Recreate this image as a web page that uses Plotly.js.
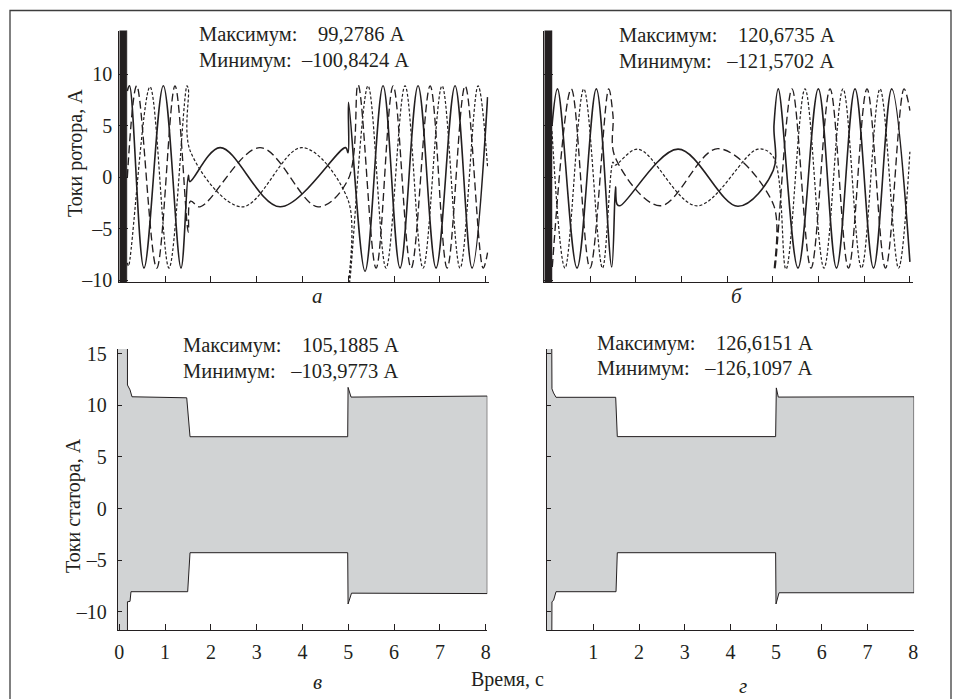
<!DOCTYPE html>
<html>
<head>
<meta charset="utf-8">
<script src="https://cdn.plot.ly/plotly-3.0.1.min.js"></script>
<style>
html,body{margin:0;padding:0;background:#fff;}
#chart{width:961px;height:699px;}
</style>
</head>
<body>
<div id="chart"></div>
<script>
// ================= DATA =================
const rotorTickVals  = [-10, -5, 0, 5, 10];
const rotorTickText  = ['–10', '–5', '0', '5', '10'];
const statorTickVals = [-10, -5, 0, 5, 10, 15];
const statorTickText = ['–10', '–5', '0', '5', '10', '15'];
const timeTicksLeft  = [0, 1, 2, 3, 4, 5, 6, 7, 8];
const timeTicksRight = [1, 2, 3, 4, 5, 6, 7, 8];
const timeTicksTop   = [1, 2, 3, 4, 5, 6, 7, 8];

// Extreme values printed on the panels (A)
const aMax = 99.2786,  aMin = -100.8424;
const bMax = 120.6735, bMin = -121.5702;
const vMax = 105.1885, vMin = -103.9773;
const gMax = 126.6151, gMin = -126.1097;

// Start-up transient interval (s) that the clipped extremes fill
const aTransientT = [0, 0.165];
const bTransientT = [0, 0.168];

// Panel а : rotor currents, three phases (time s, current A)
const aSolidT = [0.175, 0.223, 0.539, 0.961, 1.347, 1.507, 1.540, 2.199, 3.509, 4.940, 4.995, 5.005, 5.365, 5.758, 6.129, 6.522, 6.915, 7.330, 7.701, 8.040];
const aSolidI = [8.4,   8.9,  -8.8,   8.9,  -8.8,   0.2,  -0.4,   2.9,  -2.85,  2.9,   2.4,   7.3,  -9.1,   8.9,  -8.8,   8.9,  -8.8,   8.9,  -8.8,   7.8];
const aDashT  = [0.175, 0.380, 0.817, 1.216, 1.507, 1.555, 1.762, 3.072, 4.338, 4.995, 5.212, 5.606, 5.978, 6.371, 6.786, 7.157, 7.550, 7.943, 8.040];
const aDashI  = [0.0,   8.9,  -8.8,   8.9,  -5.3,  -2.3,  -2.85,  2.9,  -2.85, -0.2,   9.0,  -8.8,   8.9,  -8.8,   8.9,  -8.8,   8.9,  -8.8,  -7.3];
const aDotT   = [0.175, 0.200, 0.670, 1.085, 1.478, 1.507, 1.555, 2.679, 3.989, 4.995, 5.010, 5.430, 5.823, 6.238, 6.631, 7.046, 7.439, 7.832, 8.040];
const aDotI   = [-8.3, -8.6,   8.8,  -8.8,   8.9,   8.6,   2.5,  -2.85,  2.9,  -2.2, -10.6,   8.9,  -8.8,   8.9,  -8.8,   8.9,  -8.8,   8.9,   1.0];

// Panel б : rotor currents, three phases
const bSolidT = [0.168, 0.289, 0.716, 1.138, 1.475, 1.558, 1.591, 1.656, 2.926, 4.239, 5.011, 5.026, 5.120, 5.551, 5.996, 6.394, 6.799, 7.204, 7.602, 8.000];
const bSolidI = [5.0,   8.6,  -8.8,   8.6,  -8.7,  -0.9,  -2.6,  -2.75,  2.75, -2.8,   0.7,   5.1,   8.6,  -8.8,   8.6,  -8.8,   8.6,  -8.8,   8.6,  -8.2];
const bDashT  = [0.175, 0.591, 1.000, 1.409, 1.503, 1.547, 2.532, 3.801, 5.011, 5.037, 5.420, 5.836, 6.252, 6.656, 7.061, 7.466, 7.871, 8.000];
const bDashI  = [-8.7,  8.6,  -8.8,   8.6,   6.0,   2.0,  -2.75,  2.8,  -2.6,  -9.0,   8.6,  -8.8,   8.6,  -8.8,   8.6,  -8.8,   8.6,   6.5];
const bDotT   = [0.168, 0.453, 0.864, 1.274, 1.503, 1.547, 2.050, 3.341, 4.676, 5.011, 5.289, 5.705, 6.120, 6.536, 6.941, 7.346, 7.751, 8.000];
const bDotI   = [4.5,  -8.8,   8.6,  -8.8,   1.5,   1.2,   2.75, -2.75,  2.75,  2.0,  -8.9,   8.6,  -8.8,   8.6,  -8.8,   8.6,  -8.8,   2.5];

// Panel в : stator current envelope (upper and lower)
const vUpperT = [-0.035, 0.175, 0.178, 0.234, 0.277, 1.472, 1.544, 4.987, 4.995, 5.060, 8.035];
const vUpperI = [vMax,   vMax,  11.97, 11.5,  10.83, 10.73, 6.96,  6.96,  11.74, 10.8,  10.9];
const vLowerT = [-0.035, 0.175, 0.178, 0.234, 0.255, 1.493, 1.544, 4.987, 4.995, 5.070, 8.035];
const vLowerI = [vMin,   vMin,  -9.03, -9.0,  -8.06, -8.06, -4.28, -4.28, -9.25, -8.2,  -8.24];

// Panel г : stator current envelope
const gUpperT = [-0.02, 0.090, 0.095, 0.130, 0.184, 1.490, 1.525, 4.990, 5.005, 5.048, 8.020];
const gUpperI = [gMax,  gMax,  11.6,  11.2,  10.78, 10.78, 6.97,  6.97,  11.69, 10.8,  10.83];
const gLowerT = [-0.02, 0.090, 0.095, 0.130, 0.184, 1.497, 1.525, 4.990, 4.998, 5.064, 8.020];
const gLowerI = [gMin,  gMin,  -9.03, -8.9,  -8.06, -8.06, -4.28, -4.28, -9.25, -8.16, -8.16];

// ================= STYLE =================
const INK = '#231f20';
const GREY = '#d1d3d4';
const FONT = 'Liberation Serif';
const W = 961, H = 699;
const px2x = p => p / W;
const py2y = p => 1 - p / H;

function fmtVal(v) {
  const s = Math.abs(v).toFixed(4).replace('.', ',');
  return (v < 0 ? '–' : '') + s + ' А';
}
const NB = '\u00a0';
function statLines(max, min, gap1, gap2) {
  return ['Максимум:' + NB.repeat(gap1) + fmtVal(max), 'Минимум:' + NB.repeat(gap2) + fmtVal(min)];
}

function phase(t, i, xa, ya, dash, width) {
  return {x: t, y: i, xaxis: xa, yaxis: ya, type: 'scatter', mode: 'lines',
    line: {color: INK, width: width, dash: dash, shape: 'spline', smoothing: 1},
    hoverinfo: 'skip'};
}
function transientBar(tr, mx, mn, xa, ya) {
  return {x: [tr[0], tr[1], tr[1], tr[0]], y: [mx, mx, mn, mn], xaxis: xa, yaxis: ya,
    type: 'scatter', mode: 'lines', fill: 'toself', fillcolor: INK,
    line: {color: INK, width: 0.5}, hoverinfo: 'skip'};
}
function envelope(ut, ui, lt, li, xa, ya) {
  return {x: ut.concat(lt.slice().reverse()), y: ui.concat(li.slice().reverse()),
    xaxis: xa, yaxis: ya, type: 'scatter', mode: 'lines', fill: 'toself',
    fillcolor: GREY, line: {color: INK, width: 1}, hoverinfo: 'skip'};
}

const data = [
  transientBar(aTransientT, aMax, aMin, 'x', 'y'),
  phase(aDotT, aDotI, 'x', 'y', '3px,2px', 1.2),
  phase(aDashT, aDashI, 'x', 'y', '8px,4px', 1.35),
  phase(aSolidT, aSolidI, 'x', 'y', 'solid', 1.6),
  transientBar(bTransientT, bMax, bMin, 'x2', 'y2'),
  phase(bDotT, bDotI, 'x2', 'y2', '3px,2px', 1.2),
  phase(bDashT, bDashI, 'x2', 'y2', '8px,4px', 1.35),
  phase(bSolidT, bSolidI, 'x2', 'y2', 'solid', 1.6),
  envelope(vUpperT, vUpperI, vLowerT, vLowerI, 'x3', 'y3'),
  envelope(gUpperT, gUpperI, gLowerT, gLowerI, 'x4', 'y4')
];

function xAxis(dom, range, anchor, ticks, labels) {
  return {domain: [px2x(dom[0]), px2x(dom[1])], range: range, anchor: anchor,
    showline: true, linecolor: INK, linewidth: 1.2, mirror: false,
    ticks: 'inside', ticklen: 6, tickwidth: 1, tickcolor: INK,
    tickmode: 'array', tickvals: ticks, ticktext: ticks.map(String),
    showticklabels: labels, ticklabelstandoff: 4,
    tickfont: {family: FONT, size: 20, color: INK},
    showgrid: false, zeroline: false, fixedrange: true};
}
function yAxis(dom, range, anchor, vals, text, labels, len, standoff) {
  return {domain: [py2y(dom[1]), py2y(dom[0])], range: range, anchor: anchor,
    showline: true, linecolor: INK, linewidth: 1,
    ticks: 'inside', ticklen: len, tickwidth: 1, tickcolor: INK,
    tickmode: 'array', tickvals: vals, ticktext: text,
    showticklabels: labels, ticklabelstandoff: standoff,
    tickfont: {family: FONT, size: 20, color: INK},
    showgrid: false, zeroline: false, fixedrange: true};
}

const TOP = [30.5, 282], BOT = [349, 630];
const topRange = [-10.15, 14.27], botRange = [-11.77, 15.46];

function ann(text, xpx, ypx, opts) {
  return Object.assign({text: text, x: px2x(xpx), y: py2y(ypx), xref: 'paper', yref: 'paper',
    showarrow: false, xanchor: 'left', yanchor: 'middle', align: 'left',
    font: {family: FONT, size: 20, color: INK}}, opts || {});
}
const STAT = {font: {family: FONT, size: 20.5, color: INK}};
const ITAL = {xanchor: 'center', font: {family: FONT, size: 21, color: INK, style: 'italic'}};

const aLines = statLines(aMax, aMin, 4, 2);
const bLines = statLines(bMax, bMin, 4, 3);
const vLines = statLines(vMax, vMin, 4, 3);
const gLines = statLines(gMax, gMin, 4, 3);

const annotations = [
  ann(aLines[0], 197, 34.5, STAT), ann(aLines[1], 197, 60.5, STAT),
  ann(bLines[0], 617, 35.5, STAT), ann(bLines[1], 617, 61.5, STAT),
  ann(vLines[0], 181, 345.5, STAT), ann(vLines[1], 181, 371, STAT),
  ann(gLines[0], 595, 343.5, STAT), ann(gLines[1], 595, 368.5, STAT),
  ann('Токи ротора, А', 75, 153, {xanchor: 'center', textangle: -90}),
  ann('Токи статора, А', 73, 506, {xanchor: 'center', textangle: -90}),
  ann('а', 317, 296, ITAL),
  ann('б', 737, 296, ITAL),
  ann('в', 317, 682, ITAL),
  ann('г', 743, 686, ITAL),
  ann('Время, с', 507.5, 679, {xanchor: 'center'})
];

const layout = {
  width: W, height: H,
  margin: {l: 0, r: 0, t: 0, b: 0},
  paper_bgcolor: '#ffffff', plot_bgcolor: 'rgba(0,0,0,0)',
  font: {family: FONT, size: 20, color: INK},
  showlegend: false,
  xaxis:  xAxis([119.3, 488.5], [0, 8.06], 'y', timeTicksTop, false),
  yaxis:  yAxis(TOP, topRange, 'x', rotorTickVals, rotorTickText, true, 9, 2),
  xaxis2: xAxis([544.3, 913.1], [0, 8.07], 'y2', timeTicksTop, false),
  yaxis2: yAxis(TOP, topRange, 'x2', rotorTickVals, rotorTickText, false, 9, 2),
  xaxis3: xAxis([117.7, 487.3], [-0.035, 8.035], 'y3', timeTicksLeft, true),
  yaxis3: yAxis(BOT, botRange, 'x3', statorTickVals, statorTickText, true, 4, 6),
  xaxis4: xAxis([546.7, 914.1], [-0.02, 8.02], 'y4', timeTicksRight, true),
  yaxis4: yAxis(BOT, botRange, 'x4', statorTickVals, statorTickText, false, 4, 6),
  annotations: annotations,
  shapes: [{type: 'rect', xref: 'paper', yref: 'paper',
    x0: px2x(10), x1: px2x(951), y0: py2y(710), y1: py2y(10.5),
    line: {color: '#3d3d3d', width: 1.3}, fillcolor: 'rgba(0,0,0,0)', layer: 'below'}]
};

Plotly.newPlot('chart', data, layout, {staticPlot: true, displayModeBar: false});
</script>
</body>
</html>
